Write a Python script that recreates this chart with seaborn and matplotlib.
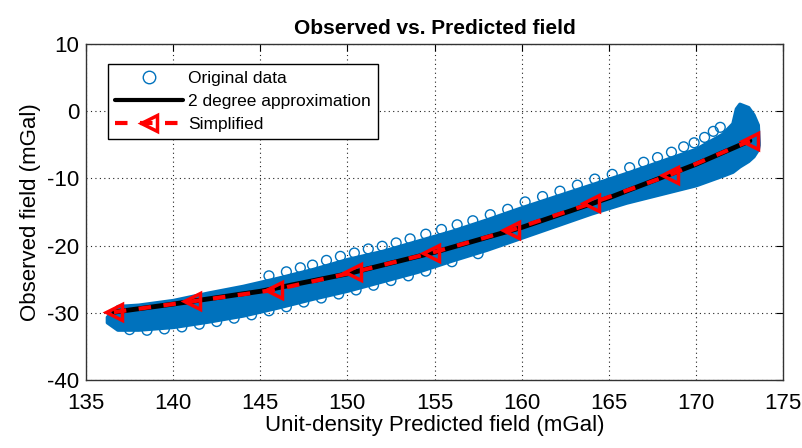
import matplotlib
matplotlib.use("Agg")
import matplotlib.pyplot as plt
import seaborn as sns
from matplotlib.lines import Line2D

# ---------------- data ----------------
# envelope of the dense "Original data" cloud
band_x = [136.2, 136.8, 138.0, 140.0, 142.0, 144.0, 146.0, 148.0, 150.0, 152.0,
          154.0, 156.0, 158.0, 160.0, 162.0, 164.0, 166.0, 168.0, 170.0, 171.5,
          172.1, 172.3, 172.5, 173.0, 173.3, 173.55, 173.6]
band_upper = [-30.6, -29.0, -28.8, -28.1, -27.0, -26.0, -24.8, -23.5, -22.0, -20.8,
              -19.3, -17.8, -16.1, -14.3, -12.6, -10.9, -9.2, -7.4, -5.6, -3.4,
              -1.8, 0.4, 1.1, 0.6, -0.5, -2.0, -4.6]
band_lower = [-31.4, -32.5, -32.5, -32.1, -31.3, -30.4, -29.2, -27.9, -26.7, -25.3,
              -23.9, -22.2, -20.6, -18.8, -17.0, -15.2, -13.6, -12.3, -11.0, -9.6,
              -9.0, -8.6, -8.2, -7.4, -6.7, -5.7, -5.0]

# loose circles along the edges of the cloud
outlier_x = [145.5, 146.5, 147.3, 148.0, 148.8, 149.6, 150.4, 151.2, 152.0, 152.8,
             153.6, 154.5, 155.4, 156.3, 157.2, 158.2, 159.2, 160.2, 161.2, 162.2,
             163.2, 164.2, 165.2, 166.2, 167.0, 167.8, 168.6, 169.3, 169.9, 170.5,
             171.0, 171.4,
             137.5, 138.5, 139.5, 140.5, 141.5, 142.5, 143.5, 144.5, 145.5, 146.5,
             147.5, 148.5, 149.5, 150.5, 151.5, 152.5, 153.5, 154.5, 156.0, 157.5]
outlier_y = [-24.5, -23.9, -23.3, -22.9, -22.2, -21.6, -21.1, -20.5, -20.1, -19.6,
             -19.0, -18.3, -17.6, -16.9, -16.3, -15.4, -14.6, -13.5, -12.7, -11.9,
             -11.0, -10.1, -9.4, -8.4, -7.6, -6.9, -6.1, -5.3, -4.7, -3.9,
             -3.0, -2.4,
             -32.5, -32.6, -32.4, -32.1, -31.7, -31.3, -30.8, -30.3, -29.7, -29.1,
             -28.4, -27.8, -27.2, -26.6, -25.9, -25.2, -24.5, -23.8, -22.4, -21.2]

# 2 degree approximation
fit_x = [136.6, 140.0, 145.0, 150.0, 155.0, 160.0, 165.0, 170.0, 173.1]
fit_y = [-29.9, -28.7, -26.8, -24.2, -21.0, -17.3, -12.9, -7.9, -4.4]

# simplified
simp_x = [136.6, 141.1, 145.8, 150.3, 154.8, 159.4, 164.0, 168.5, 173.1]
simp_y = [-29.9, -28.3, -26.6, -24.0, -21.1, -17.7, -13.7, -9.5, -4.4]

labels = ["Original data", "2 degree approximation", "Simplified"]
x_ticks = [135, 140, 145, 150, 155, 160, 165, 170, 175]
y_ticks = [-40, -30, -20, -10, 0, 10]

# ---------------- style ----------------
sns.set_style("white")
plt.rcParams["font.family"] = ["Liberation Sans", "DejaVu Sans"]
plt.rcParams["axes.unicode_minus"] = False
plt.rcParams["text.color"] = "black"
plt.rcParams["axes.labelcolor"] = "black"
BLUE = "#0072BD"
RED = "#FF0000"

fig = plt.figure(figsize=(8.02, 4.48), dpi=100)
ax = fig.add_axes([86 / 802, 1 - 380 / 448, 697 / 802, 336 / 448])

# dense cloud
ax.fill_between(band_x, band_lower, band_upper, facecolor=BLUE,
                edgecolor=BLUE, linewidth=2.5, zorder=2)
sns.scatterplot(x=outlier_x, y=outlier_y, ax=ax, marker="o", s=50,
                color=BLUE, facecolor="none", edgecolor=BLUE, linewidth=1.0,
                zorder=3, legend=False)
ax.collections[-1].set_facecolor("none")
ax.collections[-1].set_edgecolor(BLUE)

sns.lineplot(x=fit_x, y=fit_y, ax=ax, color="k", linewidth=3.5, sort=False,
             estimator=None, zorder=4, legend=False)
sns.lineplot(x=simp_x, y=simp_y, ax=ax, color=RED, linewidth=3, sort=False,
             estimator=None, zorder=5, linestyle=(0, (3, 3)), marker="<",
             markersize=12, markerfacecolor="none", markeredgecolor=RED,
             markeredgewidth=2.5, legend=False)

ax.set_xlim(135, 175)
ax.set_ylim(-40, 10)
ax.set_xticks(x_ticks)
ax.set_yticks(y_ticks)
ax.grid(True, linestyle=(0, (1, 3)), color="#222222", linewidth=0.8)
ax.set_axisbelow(True)
ax.tick_params(direction="in", length=5, width=0.8, top=True, right=True,
               labelsize=16, colors="#000000")
ax.tick_params(axis="x", pad=9)
ax.tick_params(axis="y", pad=5)
for s in ax.spines.values():
    s.set_color("#333333")
    s.set_linewidth(1.0)

ax.set_title("Observed vs. Predicted field", fontsize=15, fontweight="bold",
             pad=7, color="black")
ax.set_xlabel("Unit-density Predicted field (mGal)", fontsize=16, labelpad=1)
ax.set_ylabel("Observed field (mGal)", fontsize=16, labelpad=4)

handles = [
    Line2D([], [], linestyle="none", marker="o", markersize=9,
           markerfacecolor="none", markeredgecolor=BLUE, markeredgewidth=1),
    Line2D([], [], color="k", linewidth=3),
    Line2D([], [], color=RED, linewidth=3, linestyle=(0, (3, 3)), marker="<",
           markersize=12, markerfacecolor="none", markeredgecolor=RED,
           markeredgewidth=2.5),
]
leg = ax.legend(handles, labels, loc="upper left", bbox_to_anchor=(0.0316, 0.94),
                borderaxespad=0, fancybox=False, edgecolor="k", framealpha=1,
                fontsize=12.5, handlelength=3.9, handletextpad=0.3,
                labelspacing=0.45, borderpad=0.4, numpoints=1)
leg.get_frame().set_linewidth(1.0)

fig.savefig("out.png", dpi=100)
